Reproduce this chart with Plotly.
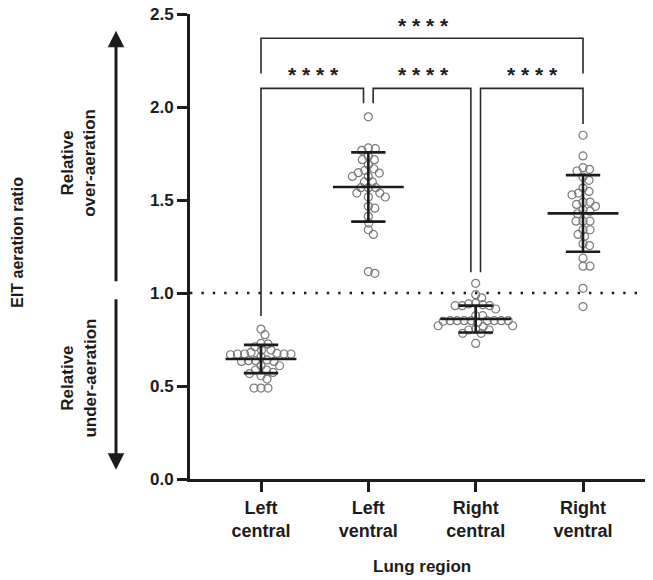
import numpy as np
import plotly.graph_objects as go

categories = ["Left<br>central", "Left<br>ventral", "Right<br>central", "Right<br>ventral"]

left_central = [0.806, 0.776, 0.726, 0.729, 0.711, 0.693, 0.693, 0.681, 0.672, 0.672,
                0.672, 0.672, 0.675, 0.668, 0.657, 0.636, 0.632, 0.636, 0.640, 0.632,
                0.586, 0.586, 0.609, 0.609, 0.573, 0.567, 0.555, 0.537, 0.489, 0.489, 0.489]
left_ventral = [1.947, 1.767, 1.776, 1.780, 1.735, 1.717, 1.717, 1.690, 1.659, 1.668,
                1.627, 1.647, 1.627, 1.645, 1.597, 1.597, 1.566, 1.566, 1.566, 1.537,
                1.537, 1.516, 1.516, 1.456, 1.466, 1.412, 1.376, 1.340, 1.315, 1.106, 1.115]
right_central = [1.052, 0.991, 0.974, 0.945, 0.941, 0.932, 0.932, 0.932, 0.937, 0.914,
                 0.878, 0.878, 0.851, 0.851, 0.851, 0.842, 0.851, 0.851, 0.851, 0.851,
                 0.851, 0.848, 0.824, 0.824, 0.801, 0.801, 0.819, 0.806, 0.783, 0.783, 0.729]
right_ventral = [1.848, 1.737, 1.665, 1.674, 1.656, 1.623, 1.606, 1.564, 1.537, 1.528,
                 1.546, 1.489, 1.489, 1.476, 1.448, 1.466, 1.440, 1.426, 1.386, 1.386,
                 1.386, 1.340, 1.340, 1.315, 1.304, 1.265, 1.255, 1.187, 1.144, 1.144,
                 1.025, 0.927]
groups = [left_central, left_ventral, right_central, right_ventral]

means = [0.645, 1.570, 0.860, 1.428]
sds = [0.076, 0.186, 0.072, 0.206]

# significance comparisons: (group a, group b, label)
comparisons = [(0, 1, "* * * *"), (1, 2, "* * * *"), (2, 3, "* * * *"), (0, 3, "* * * *")]

threshold = 1.0
y_ticks = [0.0, 0.5, 1.0, 1.5, 2.0, 2.5]

# ---------------- layout geometry (page has an 8px body margin) ----------------
OFF = 8
W, H = 653 - OFF, 580 - OFF
ML, MR, MT, MB = 190 - OFF, 0, 14 - OFF, 101
PW, PH = W - ML - MR, H - MT - MB
XR = [-0.6615, 3.652]
YR = [0.0, 2.5]
XPX = PW / (XR[1] - XR[0])
YPX = PH / (YR[1] - YR[0])

FONT = "Liberation Sans, Arial, Helvetica, sans-serif"
INK = "#1c1c1c"
PT = "#7a7a7a"


def swarm(vals, d=6.7):
    placed = []
    offs = [0.0] * len(vals)
    order = np.argsort(vals)[::-1]
    for i in order:
        y = vals[i] * YPX
        best = None
        k = 0
        while best is None:
            cands = [0.0] if k == 0 else [k * 0.5, -k * 0.5]
            for c in cands:
                if all((c - px) ** 2 + (y - py) ** 2 >= d * d for px, py in placed):
                    best = c
                    break
            k += 1
        placed.append((best, y))
        offs[i] = best / XPX
    return offs


fig = go.Figure()

for gi, vals in enumerate(groups):
    offs = swarm(vals)
    fig.add_trace(go.Scatter(
        x=[gi + o for o in offs], y=vals, mode="markers",
        marker=dict(symbol="circle-open", size=8, color=PT, line=dict(width=1.2, color=PT)),
        showlegend=False, hoverinfo="y"))

shapes = []
# mean and SD bars
for gi, (m, s) in enumerate(zip(means, sds)):
    lw = 2.6
    shapes.append(dict(type="line", xref="x", yref="y", x0=gi - 0.33, x1=gi + 0.33, y0=m, y1=m,
                       line=dict(color=INK, width=lw), layer="above"))
    for yy in (m - s, m + s):
        shapes.append(dict(type="line", xref="x", yref="y", x0=gi - 0.16, x1=gi + 0.16, y0=yy, y1=yy,
                           line=dict(color=INK, width=lw), layer="above"))
    shapes.append(dict(type="line", xref="x", yref="y", x0=gi, x1=gi, y0=m - s, y1=m + s,
                       line=dict(color=INK, width=lw), layer="above"))

# dotted threshold line
shapes.append(dict(type="line", xref="paper", yref="y", x0=0, x1=1, y0=threshold, y1=threshold,
                   line=dict(color=INK, width=2.4, dash="2.4px,9px")))

# brackets
bw = 1.6
bcol = "#2a2a2a"
gap = 0.045
tops = [max(g) for g in groups]
for a, b, lab in comparisons:
    if b - a == 1:
        yb = 2.10
        xa = a + (gap if a in (1, 2) else 0)
        xb = b - (gap if b in (1, 2) else 0)
        ya_end = tops[a] + 0.06 if a != 1 else 2.02
        yb_end = tops[b] + 0.06 if b != 1 else 2.02
        if a == 0:
            ya_end = tops[a] + 0.07
    else:
        yb = 2.37
        xa, xb = a, b
        ya_end = yb_end = 2.18
    shapes.append(dict(type="path", xref="x", yref="y",
                       path=f"M {xa},{ya_end} L {xa},{yb} L {xb},{yb} L {xb},{yb_end}",
                       line=dict(color=bcol, width=bw)))

fig.update_layout(shapes=shapes)

annotations = []
for a, b, lab in comparisons:
    if b - a == 1:
        xa = a + (gap if a in (1, 2) else 0)
        xb = b - (gap if b in (1, 2) else 0)
        ys = 2.175
    else:
        xa, xb = a, b
        ys = 2.437
    annotations.append(dict(x=(xa + xb) / 2 + 0.01, y=ys, xref="x", yref="y", text=lab, showarrow=False,
                            font=dict(family=FONT, size=21, color=INK, weight="bold"),
                            xanchor="center", yanchor="middle"))

# side arrows
arrow_x = (116 - 190) / PW
annotations.append(dict(x=arrow_x, y=2.41, xref="paper", yref="y", ax=0, ay=(2.41 - 1.055) * YPX,
                        axref="pixel", ayref="pixel", text="", showarrow=True,
                        arrowhead=2, arrowsize=1.1, arrowwidth=3, arrowcolor=INK, standoff=0))
annotations.append(dict(x=arrow_x, y=0.05, xref="paper", yref="y", ax=0, ay=-(0.975 - 0.05) * YPX,
                        axref="pixel", ayref="pixel", text="", showarrow=True,
                        arrowhead=2, arrowsize=1.1, arrowwidth=3, arrowcolor=INK, standoff=0))

side_x = (79 - 190) / PW
annotations.append(dict(x=side_x, y=1.70, xref="paper", yref="y", text="Relative<br>over-aeration",
                        showarrow=False, textangle=-90,
                        font=dict(family=FONT, size=17, color=INK, weight="bold"),
                        xanchor="center", yanchor="middle"))
annotations.append(dict(x=side_x, y=0.54, xref="paper", yref="y", text="Relative<br>under-aeration",
                        showarrow=False, textangle=-90,
                        font=dict(family=FONT, size=17, color=INK, weight="bold"),
                        xanchor="center", yanchor="middle"))
annotations.append(dict(x=(18 - 190) / PW, y=1.27, xref="paper", yref="y", text="EIT aeration ratio",
                        showarrow=False, textangle=-90,
                        font=dict(family=FONT, size=16, color=INK, weight="bold"),
                        xanchor="center", yanchor="middle"))
annotations.append(dict(x=(422 - 190) / PW, y=(479 - 566) / PH, xref="paper", yref="paper",
                        text="Lung region", showarrow=False,
                        font=dict(family=FONT, size=17, color=INK, weight="bold"),
                        xanchor="center", yanchor="middle"))
fig.update_layout(annotations=annotations)

fig.update_xaxes(range=XR, tickmode="array", tickvals=list(range(len(categories))),
                 ticktext=categories, showline=True, linecolor=INK, linewidth=3,
                 ticks="outside", ticklen=10, tickwidth=2.6, tickcolor=INK,
                 showgrid=False, zeroline=False,
                 tickfont=dict(family=FONT, size=18, color=INK, weight="bold"))
fig.update_yaxes(range=YR, tickmode="array", tickvals=y_ticks,
                 ticktext=[f"{v:.1f}" for v in y_ticks], showline=True, linecolor=INK, linewidth=3,
                 ticks="outside", ticklen=10, tickwidth=2.6, tickcolor=INK,
                 showgrid=False, zeroline=False, ticklabeloverflow="allow",
                 tickfont=dict(family=FONT, size=17, color=INK, weight="bold"))

fig.update_layout(width=W, height=H, margin=dict(l=ML, r=MR, t=MT, b=MB, autoexpand=False),
                  plot_bgcolor="white", paper_bgcolor="white")

fig.write_html("out.html")
